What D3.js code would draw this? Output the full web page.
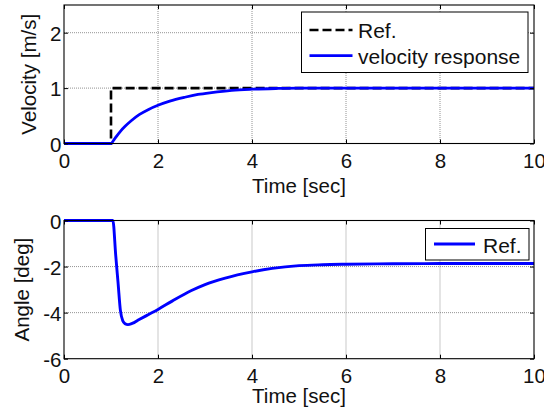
<!DOCTYPE html>
<html><head><meta charset="utf-8">
<script src="https://cdn.jsdelivr.net/npm/d3@7"></script>
<style>
body{margin:0;background:#fff;}
text{font-family:"Liberation Sans",Arial,sans-serif;}
</style></head>
<body><svg id="c" width="544" height="414"></svg>
<script>
// ---- data ----
const xTicks = [0, 2, 4, 6, 8, 10];
const velTicks = [0, 1, 2];
const angTicks = [-6, -4, -2, 0];

const refT = [0, 1, 1, 10];
const refV = [0, 0, 1, 1];

const velT = [0, 1, 1.05, 1.1, 1.2, 1.3, 1.43, 1.6, 1.8, 2.0, 2.25, 2.57, 2.85, 3.14, 3.57, 4.0, 4.5, 5.0, 6.0, 8.0, 10.0];
const velV = [0, 0, 0.05, 0.11, 0.22, 0.31, 0.41, 0.52, 0.615, 0.69, 0.765, 0.835, 0.885, 0.92, 0.96, 0.98, 0.993, 1.0, 1.0, 1.0, 1.0];

const angT = [0, 1, 1.04, 1.1, 1.15, 1.2, 1.25, 1.3, 1.36, 1.45, 1.6, 1.8, 2.0, 2.3, 2.7, 3.0, 3.43, 4.0, 4.43, 5.0, 5.5, 6.0, 7.0, 8.0, 10.0];
const angV = [0, 0, 0, -1.5, -2.7, -3.9, -4.35, -4.48, -4.52, -4.47, -4.3, -4.08, -3.86, -3.5, -3.05, -2.78, -2.5, -2.23, -2.08, -1.96, -1.92, -1.9, -1.88, -1.87, -1.87];

// ---- drawing ----
const svg = d3.select("#c");
const L = 64, R = 534;
const FS = 20.5;

function panel(top, bottom, yDomain, yTicks, yLabel, yLabelX, xLabelY) {
  const x = d3.scaleLinear().domain([0, 10]).range([L, R]);
  const y = d3.scaleLinear().domain(yDomain).range([bottom, top]);
  const g = svg.append("g");
  g.selectAll(".gx").data(xTicks.filter(d => d > 0 && d < 10)).enter().append("line")
    .attr("x1", d => x(d)).attr("x2", d => x(d)).attr("y1", top).attr("y2", bottom)
    .attr("stroke", "#777").attr("stroke-width", 0.8).attr("stroke-dasharray", "1,1");
  g.selectAll(".gy").data(yTicks.filter(d => d > yDomain[0] && d < yDomain[1])).enter().append("line")
    .attr("y1", d => y(d)).attr("y2", d => y(d)).attr("x1", L).attr("x2", R)
    .attr("stroke", "#777").attr("stroke-width", 0.8).attr("stroke-dasharray", "1,1");
  return {x, y, g, top, bottom, yTicks, yLabel, yLabelX, xLabelY};
}

function frame(p) {
  const {x, y, g, top, bottom, yTicks} = p;
  const ax = g.append("g").attr("transform", `translate(0,${bottom})`)
    .call(d3.axisBottom(x).tickValues(xTicks).tickFormat(d3.format("d")).tickSizeInner(-4).tickSizeOuter(0).tickPadding(10));
  const axT = g.append("g").attr("transform", `translate(0,${top})`)
    .call(d3.axisTop(x).tickValues(xTicks).tickFormat("").tickSizeInner(-4).tickSizeOuter(0));
  const ay = g.append("g").attr("transform", `translate(${L},0)`)
    .call(d3.axisLeft(y).tickValues(yTicks).tickFormat(d3.format("d")).tickSizeInner(-4).tickSizeOuter(0).tickPadding(2.5));
  const ayR = g.append("g").attr("transform", `translate(${R},0)`)
    .call(d3.axisRight(y).tickValues(yTicks).tickFormat("").tickSizeInner(-4).tickSizeOuter(0));
  [ax, axT, ay, ayR].forEach(a => {
    a.select(".domain").remove();
    a.selectAll("line").attr("stroke", "#000");
    a.selectAll("text").attr("font-size", FS).attr("fill", "#111").attr("font-family", "Liberation Sans, Arial, sans-serif");
  });
  ay.selectAll("text").attr("dy", "0.38em").text(d => d < 0 ? "-" + Math.abs(d) : d);
  g.append("rect").attr("x", L).attr("y", top).attr("width", R - L).attr("height", bottom - top)
    .attr("fill", "none").attr("stroke", "#000").attr("stroke-width", 1.1);
  g.append("text").attr("x", (L + R) / 2).attr("y", p.xLabelY).attr("text-anchor", "middle")
    .attr("font-size", FS).attr("fill", "#111").text("Time [sec]");
  g.append("text").attr("transform", `translate(${p.yLabelX},${(top + bottom) / 2}) rotate(-90)`)
    .attr("text-anchor", "middle").attr("font-size", FS).attr("fill", "#111").text(p.yLabel);
}

// top panel
const p1 = panel(5, 143.5, [0, 2.5], velTicks, "Velocity [m/s]", 36, 193);
p1.g.append("path").datum(d3.zip(refT, refV)).attr("d", d3.line().x(d => p1.x(d[0])).y(d => p1.y(d[1])))
  .attr("fill", "none").attr("stroke", "#000").attr("stroke-width", 2.6).attr("stroke-dasharray", "9,4");
p1.g.append("path").datum(d3.zip(velT, velV)).attr("d", d3.line().curve(d3.curveMonotoneX).x(d => p1.x(d[0])).y(d => p1.y(d[1])))
  .attr("fill", "none").attr("stroke", "#0000ff").attr("stroke-width", 2.8);
frame(p1);
const lg1 = svg.append("g");
lg1.append("rect").attr("x", 301.5).attr("y", 12).attr("width", 226.5).attr("height", 60.5)
  .attr("fill", "#fff").attr("stroke", "#000").attr("stroke-width", 1);
lg1.append("line").attr("x1", 309.5).attr("x2", 352.5).attr("y1", 30).attr("y2", 30)
  .attr("stroke", "#000").attr("stroke-width", 2.6).attr("stroke-dasharray", "9,4");
lg1.append("line").attr("x1", 309.5).attr("x2", 352.5).attr("y1", 55.7).attr("y2", 55.7)
  .attr("stroke", "#0000ff").attr("stroke-width", 2.8);
lg1.append("text").attr("x", 358).attr("y", 37.5).attr("font-size", 21).attr("fill", "#111").text("Ref.");
lg1.append("text").attr("x", 358).attr("y", 64).attr("font-size", 21).attr("fill", "#111").text("velocity response");

// bottom panel
const p2 = panel(220.5, 358.7, [-6, 0], angTicks, "Angle [deg]", 29, 402.5);
p2.g.append("path").datum(d3.zip(angT, angV)).attr("d", d3.line().curve(d3.curveMonotoneX).x(d => p2.x(d[0])).y(d => p2.y(d[1])))
  .attr("fill", "none").attr("stroke", "#0000ff").attr("stroke-width", 2.9);
frame(p2);
const lg2 = svg.append("g");
lg2.append("rect").attr("x", 425.5).attr("y", 228.5).attr("width", 103.5).attr("height", 31.5)
  .attr("fill", "#fff").attr("stroke", "#000").attr("stroke-width", 1);
lg2.append("line").attr("x1", 434).attr("x2", 475).attr("y1", 244).attr("y2", 244)
  .attr("stroke", "#0000ff").attr("stroke-width", 2.8);
lg2.append("text").attr("x", 483).attr("y", 252.5).attr("font-size", 21).attr("fill", "#111").text("Ref.");
</script></body></html>
